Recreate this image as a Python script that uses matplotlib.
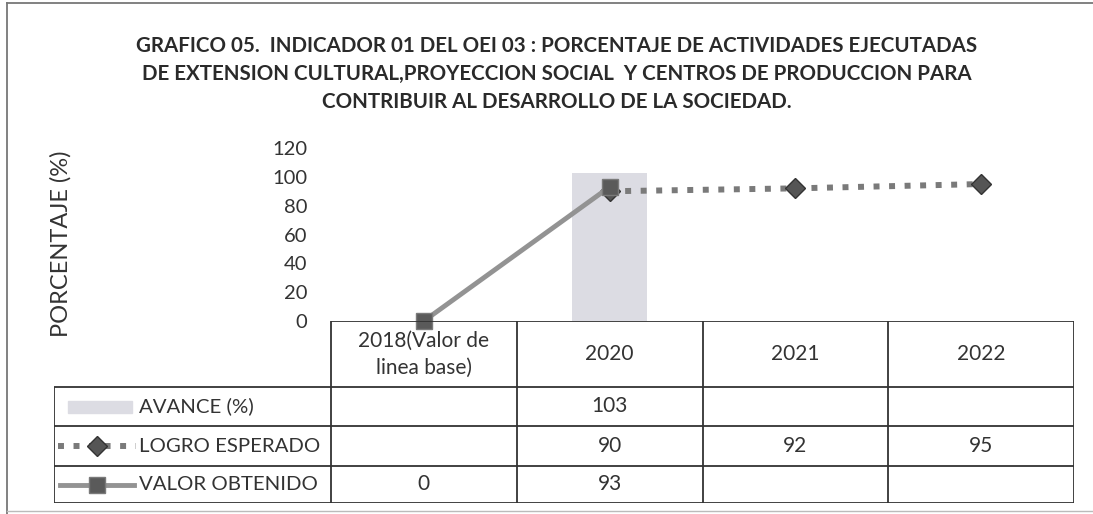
import matplotlib
matplotlib.use("Agg")
import matplotlib.pyplot as plt
from matplotlib.patches import Rectangle
from matplotlib.lines import Line2D

categories = ["2018(Valor de\nlinea base)", "2020", "2021", "2022"]
avance = [None, 103, None, None]
logro = [None, 90, 92, 95]
valor = [0, 93, None, None]
series_names = ["AVANCE (%)", "LOGRO ESPERADO", "VALOR OBTENIDO"]
yticks = [0, 20, 40, 60, 80, 100, 120]
title = ("GRAFICO 05.  INDICADOR 01 DEL OEI 03 : PORCENTAJE DE ACTIVIDADES EJECUTADAS\n"
         "DE EXTENSION CULTURAL,PROYECCION SOCIAL  Y CENTROS DE PRODUCCION PARA\n"
         "CONTRIBUIR AL DESARROLLO DE LA SOCIEDAD.")
ylabel = "PORCENTAJE (%)"

FONT = "Lato"
plt.rcParams['font.family'] = [FONT, 'DejaVu Sans']

W, H = 1093, 514
fig = plt.figure(figsize=(W / 100, H / 100), dpi=100)

def fx(px):
    return px / W

def fy(py):
    return 1 - py / H

txt_c = "#333333"
edge = "#333333"
bar_c = "#dcdce3"
logro_c = "#7a7a7a"
valor_c = "#939393"

# outer frame (top, left, bottom edges of the scanned box)
fig.lines.append(Line2D([fx(7), 1], [fy(3), fy(3)], transform=fig.transFigure,
                        color="#777777", linewidth=1.3))
fig.lines.append(Line2D([fx(7), fx(7)], [fy(3), 0], transform=fig.transFigure,
                        color="#777777", linewidth=1.3))
fig.lines.append(Line2D([fx(7), 1], [fy(511), fy(511)], transform=fig.transFigure,
                        color="#bbbbbb", linewidth=1.0))

# ---- main chart axes ----
AX_L, AX_R, AX_T, AX_B = 331, 1074, 148, 321
ax = fig.add_axes([fx(AX_L), fy(AX_B), fx(AX_R) - fx(AX_L), fy(AX_T) - fy(AX_B)])
x = list(range(len(categories)))
ax.set_xlim(-0.5, len(categories) - 0.5)
ax.set_ylim(0, 120)

bx = [i for i, v in zip(x, avance) if v is not None]
bv = [v for v in avance if v is not None]
ax.bar(bx, bv, width=0.4, color=bar_c, zorder=1)

lx = [i for i, v in zip(x, logro) if v is not None]
lv = [v for v in logro if v is not None]
ax.plot(lx, lv, color=logro_c, linewidth=4.3, dashes=(1, 1.6),
        marker="D", markersize=10, markerfacecolor="#555555",
        markeredgecolor="#333333", zorder=3)

vx = [i for i, v in zip(x, valor) if v is not None]
vv = [v for v in valor if v is not None]
ax.plot(vx, vv, color=valor_c, linewidth=3.5, marker="s", markersize=11.5,
        markerfacecolor="#5a5a5a", markeredgecolor="#7a7a7a", zorder=6,
        clip_on=False)

ax.set_yticks(yticks)
ax.set_yticklabels([str(t) for t in yticks], fontsize=14.5, color=txt_c)
ax.tick_params(axis="y", length=0, pad=17)
ax.tick_params(axis="x", length=0, labelbottom=False)
for s in ax.spines.values():
    s.set_visible(False)
ax.patch.set_alpha(0)

fig.text(fx(61), fy(244), ylabel, rotation=90, ha="center", va="center",
         fontsize=17, color=txt_c)

fig.text(fx(557), fy(74), title, ha="center", va="center", fontsize=14.8,
         fontweight="bold", color="#2a2a2a", linespacing=1.5)

# ---- data table (shares the category scale of the chart) ----
TB_L, TB_B = 54, 503
unit = (AX_R - AX_L) / len(categories)          # pixels per category
left_x = -0.5 - (AX_L - TB_L) / unit            # left edge of label column
tax = fig.add_axes([fx(TB_L), fy(TB_B), fx(AX_R) - fx(TB_L), fy(AX_B) - fy(TB_B)], zorder=2)
tax.set_xlim(left_x, len(categories) - 0.5)
row_edges = [0, 66, 105, 145, 182]              # header + three series rows (px)
tax.set_ylim(row_edges[-1], 0)
tax.axis("off")
tax.patch.set_alpha(0)

lw = 1.3
tax.hlines(row_edges[0], -0.5, len(categories) - 0.5, color=edge, lw=lw)
for r in row_edges[1:]:
    tax.hlines(r, left_x, len(categories) - 0.5, color=edge, lw=lw)
tax.vlines(left_x, row_edges[1], row_edges[-1], color=edge, lw=lw)
for k in range(len(categories) + 1):
    tax.vlines(k - 0.5, row_edges[0], row_edges[-1], color=edge, lw=lw)

hy = (row_edges[0] + row_edges[1]) / 2
for j, c in enumerate(categories):
    tax.text(j, hy, c, ha="center", va="center", fontsize=15, color=txt_c,
             linespacing=1.45)

rows = [avance, logro, valor]
for i, vals in enumerate(rows):
    cy = (row_edges[i + 1] + row_edges[i + 2]) / 2
    for j, v in enumerate(vals):
        if v is not None:
            tax.text(j, cy, str(v), ha="center", va="center", fontsize=15, color=txt_c)

# row labels with legend keys
row_y = [AX_B + (row_edges[i + 1] + row_edges[i + 2]) / 2 for i in range(3)]
for name, yy in zip(series_names, row_y):
    fig.text(fx(139), fy(yy), name, ha="left", va="center", fontsize=14.7, color=txt_c)

fig.patches.append(Rectangle((fx(68), fy(row_y[0] + 6)), fx(132) - fx(68),
                             fy(row_y[0] - 6) - fy(row_y[0] + 6),
                             transform=fig.transFigure, color=bar_c))
fig.lines.append(Line2D([fx(58), fx(136)], [fy(row_y[1]), fy(row_y[1])], transform=fig.transFigure,
                        color=logro_c, linewidth=4.3, dashes=(1, 1.6)))
fig.lines.append(Line2D([fx(97)], [fy(row_y[1])], transform=fig.transFigure, marker="D",
                        markersize=10, markerfacecolor="#555555", markeredgecolor="#333333"))
fig.lines.append(Line2D([fx(60), fx(134)], [fy(row_y[2]), fy(row_y[2])], transform=fig.transFigure,
                        color=valor_c, linewidth=3.5))
fig.lines.append(Line2D([fx(97)], [fy(row_y[2])], transform=fig.transFigure, marker="s",
                        markersize=11.5, markerfacecolor="#5a5a5a", markeredgecolor="#7a7a7a"))

fig.savefig("out.png", dpi=100)
